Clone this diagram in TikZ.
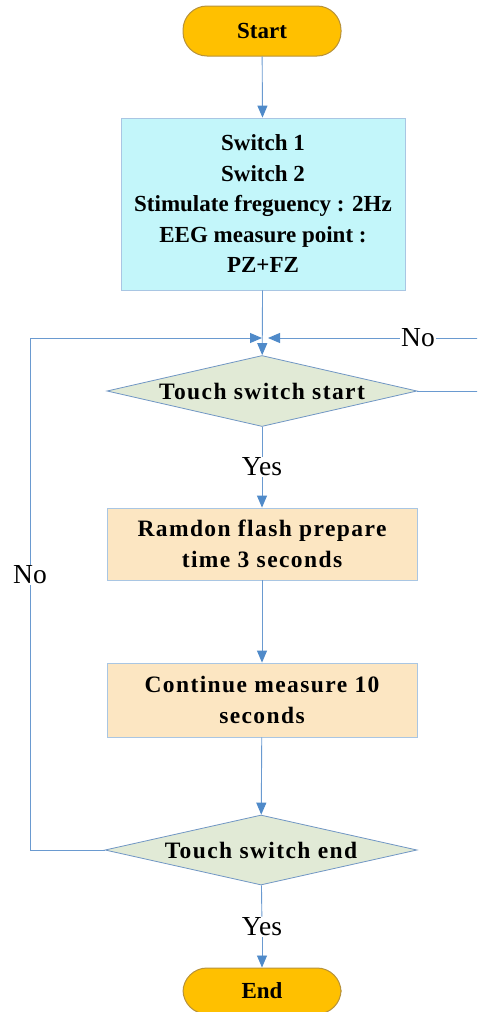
\documentclass[tikz,border=0pt]{standalone}
\usepackage{fontspec}
\setmainfont{Liberation Serif}
\usetikzlibrary{arrows.meta,shapes.geometric}
\definecolor{lineblue}{HTML}{6A9AD0}
\definecolor{tipblue}{HTML}{4F8AC9}
\definecolor{termfill}{HTML}{FFC000}
\definecolor{termdraw}{HTML}{B8923A}
\definecolor{cyanfill}{HTML}{C3F6FA}
\definecolor{decfill}{HTML}{E1EAD6}
\definecolor{peachfill}{HTML}{FCE6C2}
\definecolor{boxdraw}{HTML}{A9C6E3}
\definecolor{decdraw}{HTML}{7096C4}
\begin{document}
\begin{tikzpicture}[x=1pt,y=-1pt,
  bold/.style={font=\fontsize{23}{30.5}\selectfont\bfseries},
  wide/.style={font=\fontsize{23.5}{31}\selectfont\bfseries\addfontfeature{LetterSpace=6}},
  term/.style={bold,draw=termdraw,line width=1pt,fill=termfill,rectangle,rounded corners=24pt,minimum width=158pt,minimum height=50pt,inner sep=0pt},
  proc/.style={bold,draw=boxdraw,line width=0.8pt,rectangle,align=center,inner sep=0pt},
  dec/.style={wide,draw=decdraw,line width=0.8pt,fill=decfill,diamond,aspect=4.4,inner sep=0pt},
  lbl/.style={font=\fontsize{27.5}{30}\selectfont,inner sep=1pt},
  conn/.style={draw=lineblue,line width=0.9pt},
  arr/.style={conn,-{Triangle[length=12pt,width=10pt,fill=tipblue,color=tipblue]}}
]
\useasboundingbox (0,0) rectangle (477,1012);
\clip (0,0) rectangle (477,1012);
\fill[white] (0,0) rectangle (477,1012);

\node[term] (start) at (262,31) {Start};
\node[proc,fill=cyanfill,minimum width=284pt,minimum height=172pt] (set) at (263,204)
  {Switch 1\\Switch 2\\Stimulate freguency : 2Hz\\EEG measure point :\\PZ+FZ};
\coordinate (j) at (263,338);
\node[dec,minimum width=310pt,minimum height=71pt] (ds) at (262,391) {Touch switch start};
\node[lbl] (yes1) at (262,467) {Yes};
\node[proc,wide,fill=peachfill,minimum width=310pt,minimum height=72pt] (b2) at (262,544)
  {Ramdon flash prepare\\time 3 seconds};
\node[proc,wide,fill=peachfill,minimum width=310pt,minimum height=74pt] (b3) at (262,700)
  {Continue measure 10\\seconds};
\node[dec,minimum width=312pt,minimum height=70pt] (de) at (261,850) {Touch switch end};
\node[lbl] (yes2) at (262,927) {Yes};
\node[term,minimum height=46pt] (end) at (262,991) {End};
\node[lbl] (noL) at (30,575) {No};
\node[lbl] (noR) at (418,338) {No};
\coordinate (lc1) at (30,850);
\coordinate (lc2) at (30,338);
\coordinate (rc1) at (480,391);
\coordinate (rc2) at (480,338);

\draw[arr] (start) -- (set);
\draw[arr] (set) -- (ds);
\draw[conn] (ds) -- (yes1);
\draw[arr] (yes1) -- (b2);
\draw[arr] (b2) -- (b3);
\draw[arr] (b3) -- (de);
\draw[conn] (de) -- (yes2);
\draw[arr] (yes2) -- (end);
\draw[conn] (de.west) -- (lc1) -- (noL);
\draw[arr] (noL) -- (lc2) -- ([xshift=-1pt]j);
\draw[conn] (ds.east) -- (rc1) -- (rc2) -- (noR);
\draw[arr] (noR) -- ([xshift=5pt]j);
\end{tikzpicture}
\end{document}
